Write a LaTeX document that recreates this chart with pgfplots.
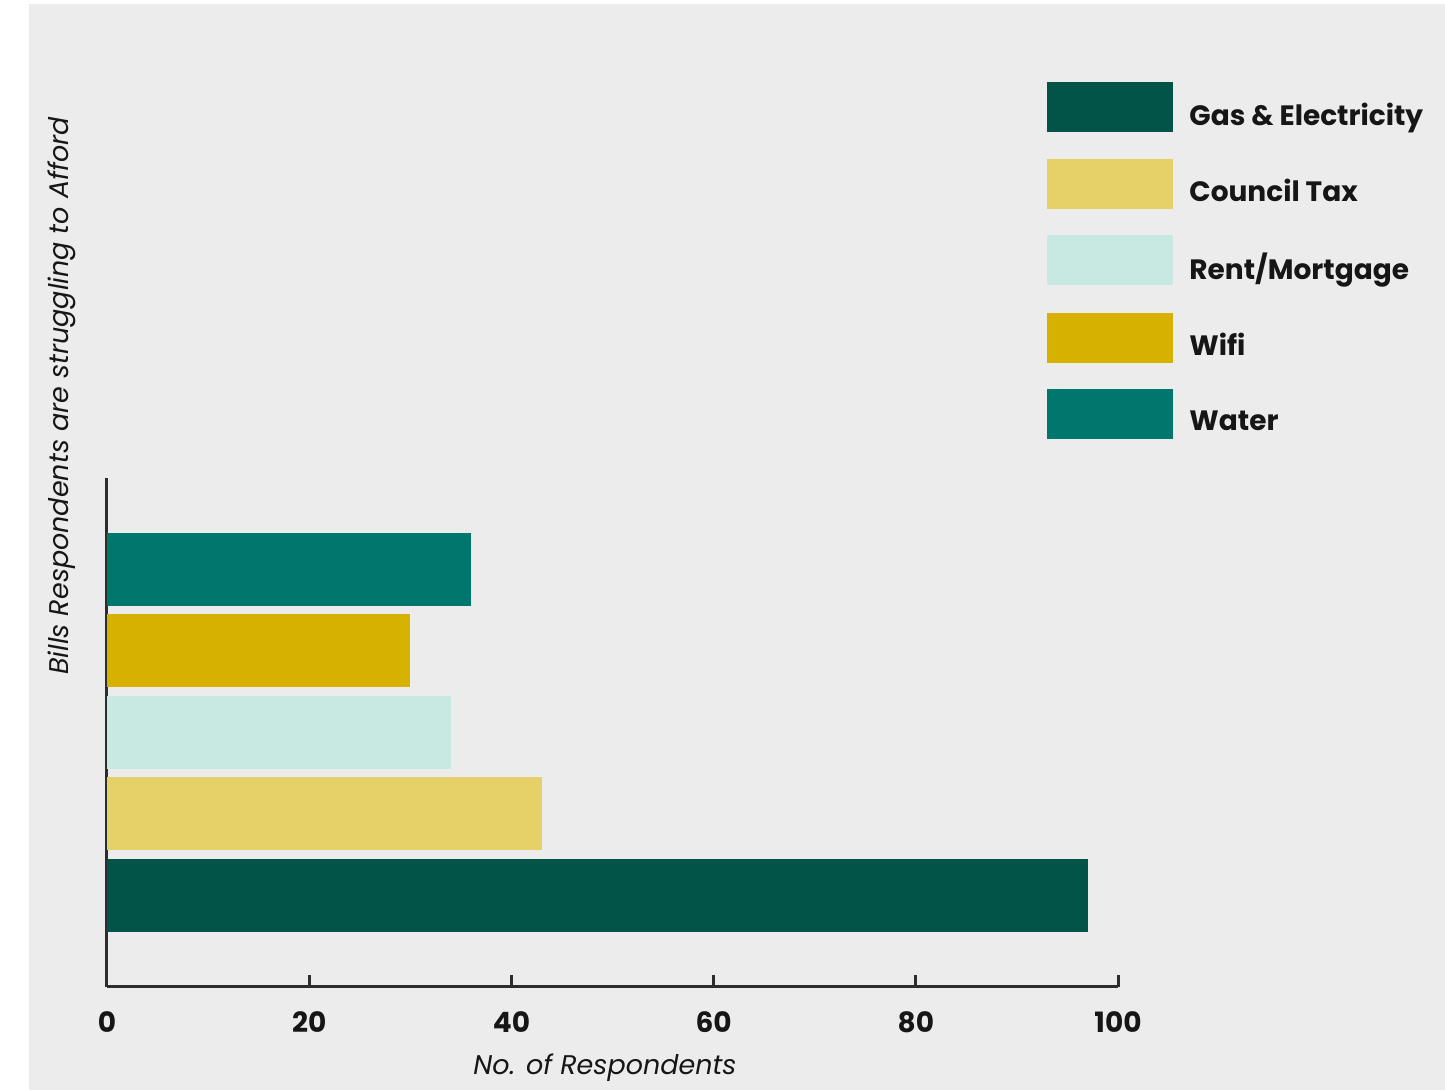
\documentclass[border=0pt]{standalone}
\usepackage{fontspec}
\setmainfont{Poppins}
\usepackage{pgfplots}
\pgfplotsset{compat=1.18}

\definecolor{bg}{RGB}{236,236,236}
\definecolor{axisgray}{RGB}{45,45,45}
\definecolor{txt}{RGB}{22,22,22}
\definecolor{gasc}{RGB}{2,84,72}
\definecolor{councilc}{RGB}{230,209,104}
\definecolor{rentc}{RGB}{200,232,226}
\definecolor{wific}{RGB}{215,177,0}
\definecolor{waterc}{RGB}{0,119,108}

\begin{document}
\begin{tikzpicture}
% page and panel background
\path[use as bounding box] (0pt,0pt) rectangle (722.5pt,545pt);
\fill[white] (0pt,0pt) rectangle (722.5pt,545pt);
\fill[bg] (14.5pt,0pt) rectangle (722.5pt,543pt);

\begin{axis}[
  at={(53.5pt,51.5pt)}, anchor=south west,
  scale only axis, width=505.5pt, height=254.5pt,
  xmin=0, xmax=100, ymin=-0.1227, ymax=6.123,
  axis x line=bottom, axis y line=left,
  axis line style={-, line width=1.5pt, draw=axisgray},
  xtick={0,20,40,60,80,100}, ytick=\empty,
  xtick align=inside, major tick length=6pt,
  tick style={line width=1.5pt, draw=axisgray},
  /pgf/number format/assume math mode=true,
  xticklabel style={font=\bfseries\fontsize{14}{14}\selectfont, text=txt, yshift=-9pt},
  xbar, bar width=36.5pt, bar shift=0pt,
  legend cell align=left,
  legend style={at={(0.9298,1.778)}, anchor=north west, draw=none, fill=none,
    inner sep=0pt, row sep=13.1pt, text=txt,
    font=\bfseries\fontsize{14}{14}\selectfont,
    /tikz/every odd column/.style={column sep=6pt}},
  legend image code/.code={\fill (0pt,-8.5pt) rectangle (63pt,16.5pt);},
]
\addplot[fill=gasc, draw=none] coordinates {(97,1)};
\addplot[fill=councilc, draw=none] coordinates {(43,2)};
\addplot[fill=rentc, draw=none] coordinates {(34,3)};
\addplot[fill=wific, draw=none] coordinates {(30,4)};
\addplot[fill=waterc, draw=none] coordinates {(36,5)};
\legend{Gas \& Electricity, Council Tax, Rent/Mortgage, Wifi, Water}
\end{axis}

% axis titles
\node[rotate=90, text=txt, font=\itshape\fontsize{13.5}{13.5}\selectfont] at (31pt,347pt) {Bills Respondents are struggling to Afford};
\node[text=txt, font=\itshape\fontsize{13.5}{13.5}\selectfont] at (302.5pt,11pt) {No. of Respondents};
\end{tikzpicture}
\end{document}
